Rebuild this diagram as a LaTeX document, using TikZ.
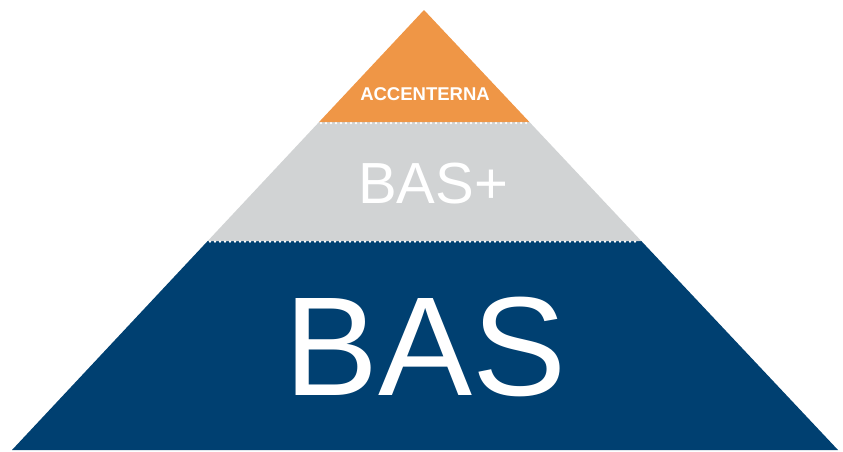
\documentclass[tikz,border=0pt]{standalone}
\usepackage{fontspec}
\setmainfont{Liberation Sans}
\definecolor{topor}{RGB}{239,150,70}
\definecolor{midgr}{RGB}{209,211,212}
\definecolor{basnv}{RGB}{0,64,113}
\tikzset{
  dotline/.style={white, line width=2.5pt, line cap=round, dash pattern=on 0pt off 5pt},
  lbl/.style={text=white, inner sep=0pt, anchor=base}
}
\begin{document}
\begin{tikzpicture}[x=1pt,y=-1pt]
\useasboundingbox (0,0) rectangle (843,451);
% layers
\fill[basnv] (207.7,241) -- (641.3,241) -- (838,450) -- (12,450) -- cycle;
\fill[midgr] (319.1,122) -- (529.4,122) -- (641.3,241) -- (207.7,241) -- cycle;
\fill[topor] (424,10) -- (529.4,122) -- (319.1,122) -- cycle;
% dotted separators
\coordinate (s1l) at (321,123);
\coordinate (s1r) at (528,123);
\coordinate (s2l) at (210,241.5);
\coordinate (s2r) at (639,241.5);
\draw[dotline] (s1l) -- (s1r);
\draw[dotline] (s2l) -- (s2r);
% labels
\node[lbl, font=\bfseries\fontsize{18.5}{20}\selectfont] (acc) at (425,100.5) {ACCENTERNA};
\node[lbl, font=\fontsize{58}{60}\selectfont] (basp) at (433,203.5) {BAS+};
\node[lbl, font=\fontsize{141}{145}\selectfont] (bas) at (425.5,395) {BAS};
\end{tikzpicture}
\end{document}
